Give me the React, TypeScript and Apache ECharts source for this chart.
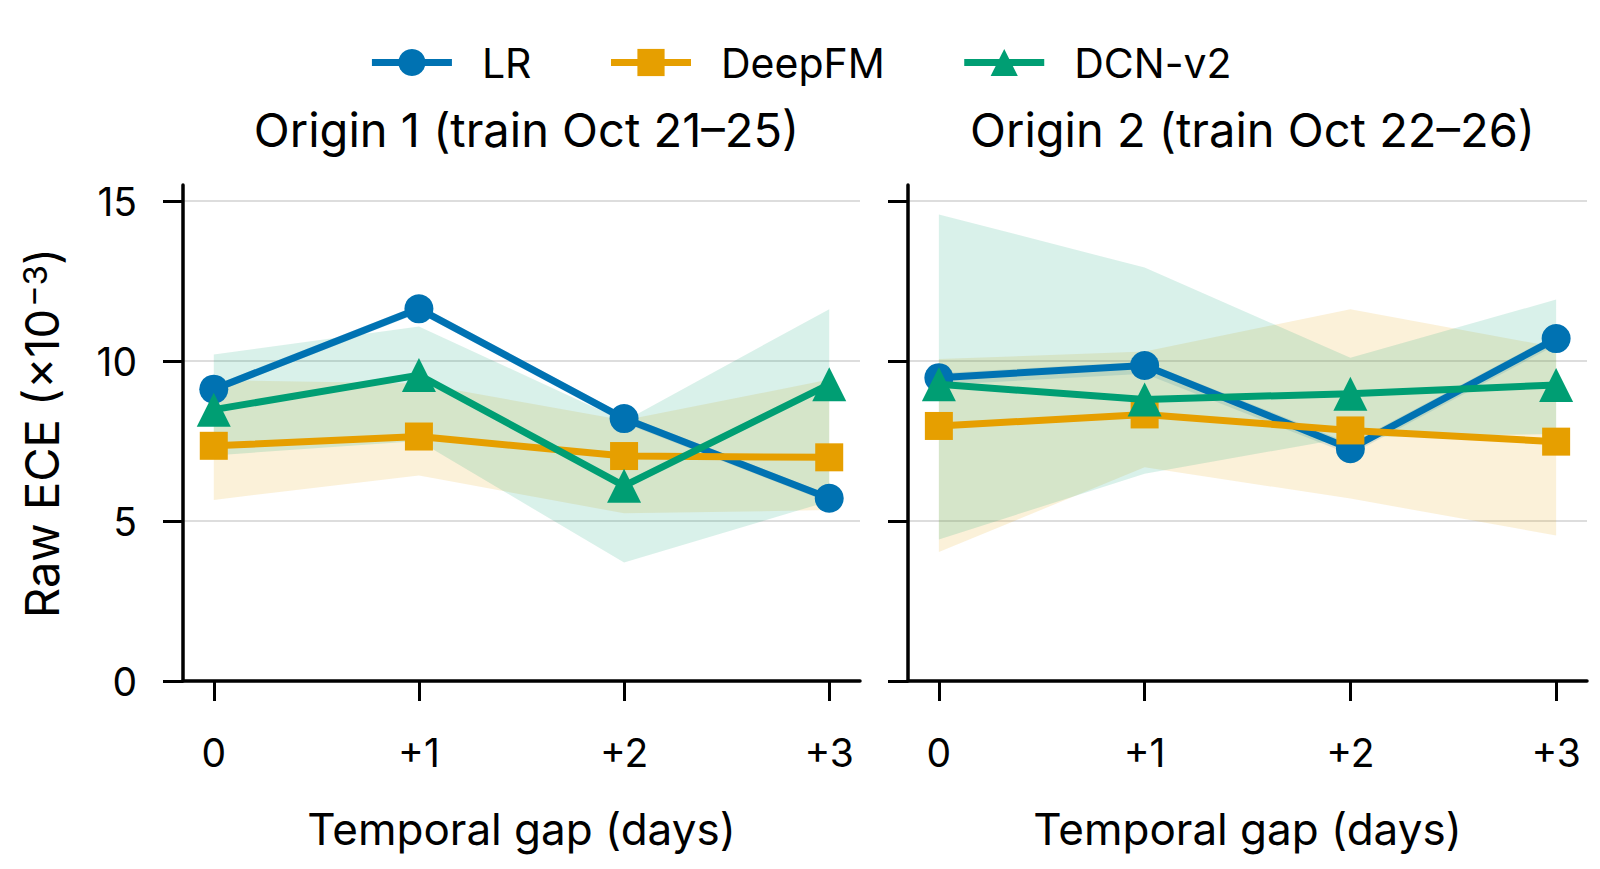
import React, { useEffect, useRef } from 'react';
import * as echarts from 'echarts';

// ---------- data ----------
const gaps = [0, 1, 2, 3];
const gapLabels = ['0', '+1', '+2', '+3'];
const yTicks = [0, 5, 10, 15];
const gridLines = [5, 10, 15];
const models = ['LR', 'DeepFM', 'DCN-v2'];
const panelTitles = ['Origin 1 (train Oct 21–25)', 'Origin 2 (train Oct 22–26)'];
const xName = 'Temporal gap (days)';
const yNameMain = 'Raw ECE (×10';
const yNameSup = '−3';
const yNameEnd = ')';

// Origin 1
const lrMean1 = [9.12, 11.63, 8.2, 5.71];
const lrLow1 = [9.0, 11.5, 8.06, 5.58];
const lrHigh1 = [9.24, 11.76, 8.32, 5.82];
const deepfmMean1 = [7.35, 7.64, 7.03, 6.99];
const deepfmLow1 = [5.66, 6.42, 5.24, 5.34];
const deepfmHigh1 = [9.4, 9.3, 8.15, 9.42];
const dcnMean1 = [8.48, 9.56, 6.1, 9.27];
const dcnLow1 = [7.05, 7.5, 3.7, 5.62];
const dcnHigh1 = [10.2, 11.08, 8.12, 11.62];

// Origin 2
const lrMean2 = [9.48, 9.86, 7.26, 10.7];
const lrLow2 = [9.25, 9.6, 7.08, 10.5];
const lrHigh2 = [9.62, 9.98, 7.42, 10.84];
const deepfmMean2 = [7.97, 8.33, 7.83, 7.48];
const deepfmLow2 = [4.03, 6.68, 5.7, 4.55];
const deepfmHigh2 = [10.06, 10.3, 11.62, 10.43];
const dcnMean2 = [9.27, 8.8, 8.98, 9.25];
const dcnLow2 = [4.42, 6.48, 7.62, 7.72];
const dcnHigh2 = [14.58, 12.92, 10.1, 11.92];

const colors = ['#0072B2', '#E69F00', '#009E73'];
const symbols = ['circle', 'rect', 'triangle'];
const symbolSizes = [29, 28, 34];

const FONT = 'Inter, "Noto Sans", sans-serif';

const panels = [
  {
    means: [lrMean1, deepfmMean1, dcnMean1],
    lows: [lrLow1, deepfmLow1, dcnLow1],
    highs: [lrHigh1, deepfmHigh1, dcnHigh1],
  },
  {
    means: [lrMean2, deepfmMean2, dcnMean2],
    lows: [lrLow2, deepfmLow2, dcnLow2],
    highs: [lrHigh2, deepfmHigh2, dcnHigh2],
  },
];

const gridBoxes = [
  { left: 183, top: 185, width: 677, height: 496 },
  { left: 908, top: 185, width: 679, height: 496 },
];

function hexToRgba(hex: string, a: number) {
  const n = parseInt(hex.slice(1), 16);
  return `rgba(${(n >> 16) & 255},${(n >> 8) & 255},${n & 255},${a})`;
}

function bandSeries(p: number, m: number) {
  const lo = panels[p].lows[m];
  const hi = panels[p].highs[m];
  return {
    type: 'custom',
    name: models[m] + ' band',
    xAxisIndex: p,
    yAxisIndex: p,
    z: 1,
    silent: true,
    data: gaps.map((g, i) => [g, lo[i], hi[i]]),
    encode: { x: 0, y: [1, 2] },
    renderItem: (params: any, api: any) => {
      if (params.dataIndexInside !== 0) return null;
      const top: number[][] = [];
      const bottom: number[][] = [];
      for (let j = 0; j < gaps.length; j++) {
        top.push(api.coord([api.value(0, j), api.value(2, j)]));
        bottom.unshift(api.coord([api.value(0, j), api.value(1, j)]));
      }
      return {
        type: 'polygon',
        shape: { points: top.concat(bottom) },
        style: { fill: hexToRgba(colors[m], 0.15) },
      };
    },
  };
}

function gridSeries(p: number) {
  return {
    type: 'custom',
    name: 'grid' + p,
    xAxisIndex: p,
    yAxisIndex: p,
    z: 0,
    silent: true,
    data: gridLines.map((v) => [0, v]),
    encode: { x: 0, y: 1 },
    renderItem: (params: any, api: any) => {
      const cs = params.coordSys;
      const y = api.coord([0, api.value(1)])[1];
      return {
        type: 'line',
        shape: { x1: cs.x, y1: y, x2: cs.x + cs.width, y2: y },
        style: { stroke: '#dddddd', lineWidth: 2 },
      };
    },
  };
}

function lineSeries(p: number, m: number) {
  return {
    type: 'line',
    name: models[m],
    xAxisIndex: p,
    yAxisIndex: p,
    z: 3 + m,
    data: gaps.map((g, i) => [g, panels[p].means[m][i]]),
    symbol: symbols[m],
    symbolSize: symbolSizes[m],
    showSymbol: true,
    lineStyle: { color: colors[m], width: 7 },
    itemStyle: { color: colors[m] },
    emphasis: { disabled: true },
  };
}

export default function App() {
  const ref = useRef<HTMLDivElement>(null);
  useEffect(() => {
    if (!ref.current) return;
    const chart = echarts.init(ref.current, null, { renderer: 'svg' });
    const series: any[] = [];
    [0, 1].forEach((p) => {
      series.push(gridSeries(p));
      [0, 1, 2].forEach((m) => series.push(bandSeries(p, m)));
      [0, 1, 2].forEach((m) => series.push(lineSeries(p, m)));
    });
    const option: any = {
      animation: false,
      backgroundColor: '#ffffff',
      textStyle: { fontFamily: FONT },
      title: [0, 1].map((p) => ({
        text: panelTitles[p],
        left: gridBoxes[p].left + gridBoxes[p].width / 2,
        textAlign: 'center',
        top: 101,
        textStyle: { fontSize: 47, fontWeight: 'normal', color: '#000', fontFamily: FONT },
      })),
      legend: {
        data: models,
        left: 'center',
        top: 37,
        itemWidth: 80,
        itemHeight: 34,
        itemGap: 76,
        lineStyle: { width: 7 },
        textStyle: { fontSize: 41, color: '#000', fontFamily: FONT, padding: [0, 0, 0, 25] },
      },
      grid: gridBoxes.map((g) => ({ ...g, containLabel: false })),
      xAxis: [0, 1].map((p) => ({
        type: 'value',
        gridIndex: p,
        min: -0.15,
        max: 3.15,
        axisLine: { show: true, onZero: false, lineStyle: { color: '#000', width: 3.5 } },
        axisTick: { show: true, customValues: gaps, length: 20, lineStyle: { color: '#000', width: 3 } },
        axisLabel: {
          show: true,
          customValues: gaps,
          formatter: (v: number) => {
            const i = gaps.indexOf(v);
            return i >= 0 ? gapLabels[i] : '';
          },
          margin: 52,
          fontSize: 39,
          color: '#000',
          fontFamily: FONT,
        },
        splitLine: { show: false },
        name: xName,
        nameLocation: 'middle',
        nameGap: 126,
        nameTextStyle: { fontSize: 44, color: '#000', fontFamily: FONT },
      })),
      yAxis: [0, 1].map((p) => ({
        type: 'value',
        gridIndex: p,
        min: 0,
        max: 15.5,
        axisLine: { show: true, onZero: false, lineStyle: { color: '#000', width: 3.5 } },
        axisTick: { show: true, customValues: yTicks, length: 20, lineStyle: { color: '#000', width: 3 } },
        axisLabel: {
          show: p === 0,
          customValues: yTicks,
          margin: 46,
          fontSize: 39,
          color: '#000',
          fontFamily: FONT,
        },
        splitLine: { show: false },
        name: p === 0 ? `{m|${yNameMain}}{sup|${yNameSup}}{m|${yNameEnd}}` : '',
        nameLocation: 'middle',
        nameGap: 118,
        nameTextStyle: {
          fontSize: 47,
          color: '#000',
          fontFamily: FONT,
          rich: {
            m: { fontSize: 47, lineHeight: 47, color: '#000', fontFamily: FONT, verticalAlign: 'bottom' },
            sup: {
              fontSize: 33,
              lineHeight: 33,
              color: '#000',
              fontFamily: FONT,
              verticalAlign: 'top',
              padding: [0, 0, 24, 2],
            },
          },
        },
      })),
      series,
    };
    chart.setOption(option);
    return () => chart.dispose();
  }, []);
  return (
    <div
      ref={ref}
      style={{ position: 'absolute', left: 0, top: 0, width: 1600, height: 869, background: '#fff' }}
    />
  );
}
